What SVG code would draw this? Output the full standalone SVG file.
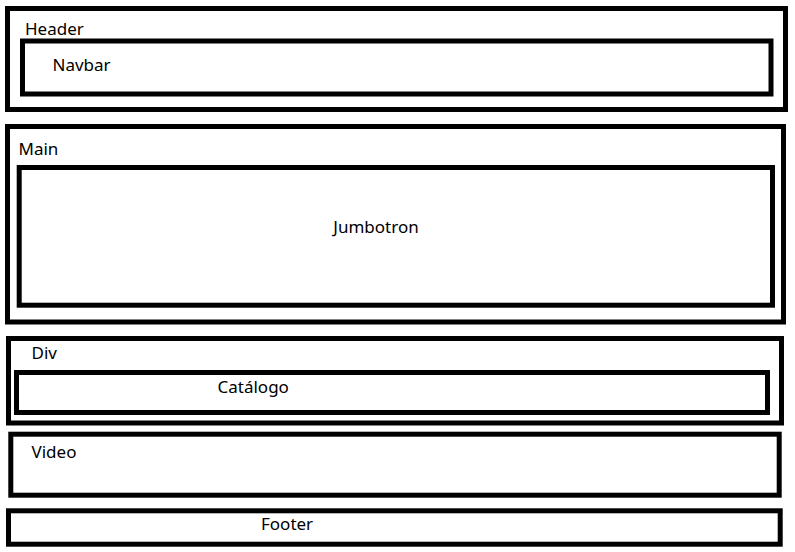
<svg xmlns="http://www.w3.org/2000/svg" width="795" height="552" viewBox="0 0 795 552">
<style>
.box{fill:none;stroke:#000;stroke-width:5}
.lbl{font-family:"Noto Sans","Liberation Sans",sans-serif;font-size:17px;fill:#000}
</style>
<rect width="795" height="552" fill="#fff"/>
<g id="header">
<rect class="box" x="7.5" y="8.5" width="778" height="101"/>
<text class="lbl" x="25" y="35">Header</text>
</g>
<g id="navbar">
<rect class="box" x="22.5" y="41" width="748.5" height="53"/>
<text class="lbl" x="52.5" y="71">Navbar</text>
</g>
<g id="main">
<rect class="box" x="7.5" y="126.5" width="776" height="195.5"/>
<text class="lbl" x="18.5" y="155">Main</text>
</g>
<g id="jumbotron">
<rect class="box" x="19.2" y="167.5" width="753.3" height="137.7"/>
<text class="lbl" x="376" y="233" text-anchor="middle">Jumbotron</text>
</g>
<g id="div">
<rect class="box" x="8.5" y="338.5" width="773" height="84.5"/>
<text class="lbl" x="31.5" y="358.5">Div</text>
</g>
<g id="catalogo">
<rect class="box" x="16.5" y="372.5" width="751" height="40"/>
<text class="lbl" x="217.5" y="393">Catálogo</text>
</g>
<g id="video">
<rect class="box" x="10.8" y="434.2" width="768.4" height="61"/>
<text class="lbl" x="31.5" y="457.5">Video</text>
</g>
<g id="footer">
<rect class="box" x="8.5" y="510.8" width="771.7" height="33.4"/>
<text class="lbl" x="261" y="530">Footer</text>
</g>
<g id="connectors"></g>
</svg>
